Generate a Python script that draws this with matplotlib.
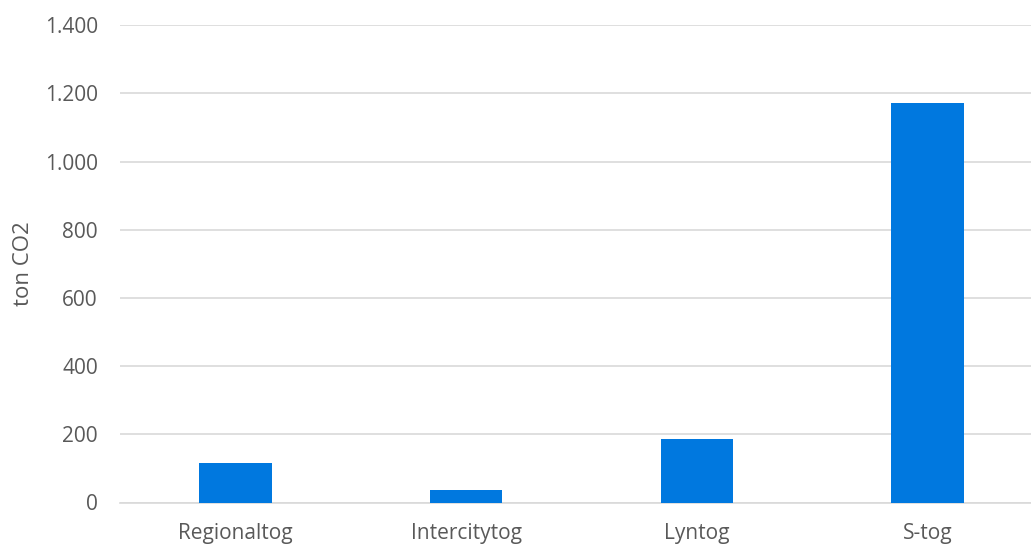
import matplotlib.pyplot as plt
from matplotlib.ticker import FuncFormatter

categories = ['Regionaltog', 'Intercitytog', 'Lyntog', 'S-tog']
values = [115, 37, 187, 1171]
y_ticks = [0, 200, 400, 600, 800, 1000, 1200, 1400]

plt.rcParams['font.family'] = ['Open Sans', 'DejaVu Sans']

fig = plt.figure(figsize=(10.31, 5.45), dpi=100)
ax = fig.add_axes([120 / 1031, 42.5 / 545, 923 / 1031, 477.4 / 545])

ax.bar(range(len(categories)), values, width=0.314, color='#0078DF', zorder=3)

ax.set_xlim(-0.5, len(categories) - 0.5)
ax.set_ylim(0, 1400)
ax.set_yticks(y_ticks)
ax.yaxis.set_major_formatter(FuncFormatter(lambda v, p: f'{int(v):,}'.replace(',', '.')))
ax.set_xticks(range(len(categories)))
ax.set_xticklabels(categories)

ax.grid(axis='y', color='#d9d9d9', linewidth=1.2, zorder=0)
for s in ['top', 'right', 'left']:
    ax.spines[s].set_visible(False)
ax.spines['bottom'].set_color('#d9d9d9')
ax.spines['bottom'].set_linewidth(1.2)
ax.tick_params(length=0, labelsize=15, colors='#595959')
ax.tick_params(axis='y', pad=16)
ax.tick_params(axis='x', pad=15)

ax.set_ylabel('ton CO2', fontsize=16, color='#595959', labelpad=8)

fig.savefig('out.png', dpi=100)
